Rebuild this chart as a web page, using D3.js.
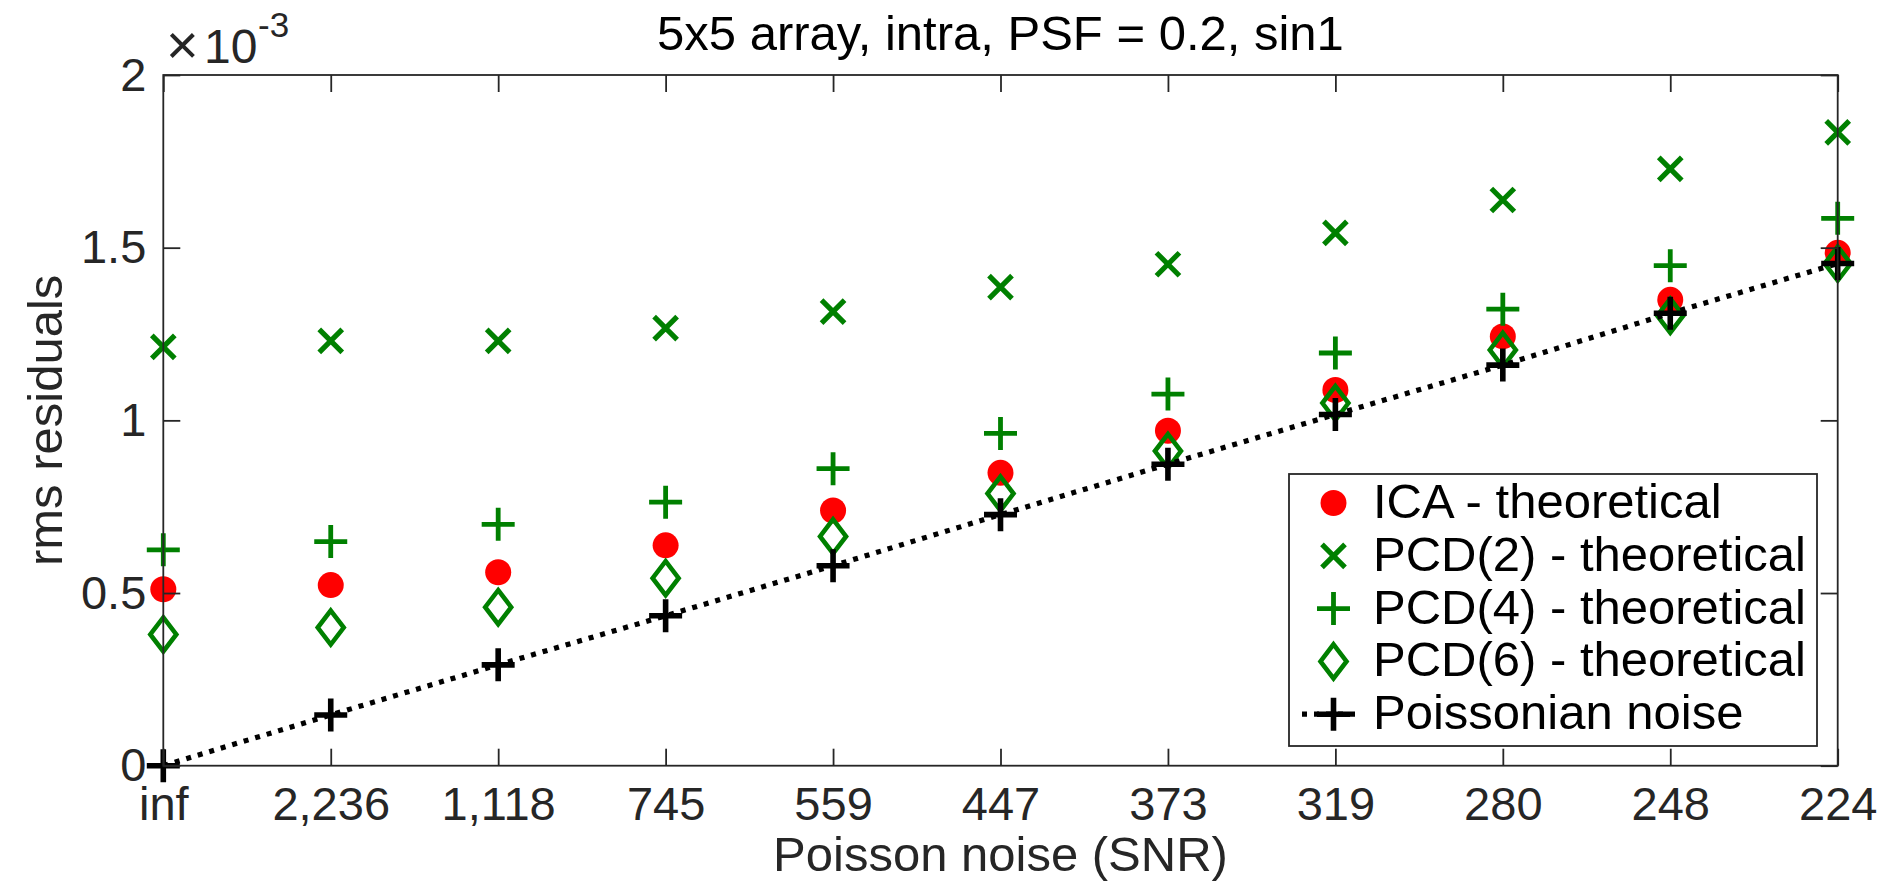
<!DOCTYPE html>
<html>
<head>
<meta charset="utf-8">
<script src="https://cdn.jsdelivr.net/npm/d3@7"></script>
<style>
  html, body { margin: 0; padding: 0; background: #fff; }
  svg { display: block; font-family: "Liberation Sans", Arial, Helvetica, sans-serif; }
</style>
</head>
<body>
<svg id="chart" width="1893" height="883"></svg>
<script>
// SNR levels along the x axis
const categories = ["inf", "2,236", "1,118", "745", "559", "447", "373", "319", "280", "248", "224"];

// rms residuals per SNR level
const icaTheoretical  = [0.511e-3, 0.523e-3, 0.560e-3, 0.638e-3, 0.739e-3, 0.848e-3, 0.970e-3, 1.088e-3, 1.243e-3, 1.349e-3, 1.485e-3];
const pcd2Theoretical = [1.213e-3, 1.230e-3, 1.230e-3, 1.267e-3, 1.315e-3, 1.386e-3, 1.452e-3, 1.543e-3, 1.638e-3, 1.728e-3, 1.834e-3];
const pcd4Theoretical = [0.625e-3, 0.649e-3, 0.699e-3, 0.763e-3, 0.860e-3, 0.962e-3, 1.076e-3, 1.195e-3, 1.322e-3, 1.448e-3, 1.585e-3];
const pcd6Theoretical = [0.380e-3, 0.400e-3, 0.459e-3, 0.543e-3, 0.664e-3, 0.788e-3, 0.911e-3, 1.050e-3, 1.204e-3, 1.303e-3, 1.454e-3];
const poissonianNoise = [0, 0.147e-3, 0.292e-3, 0.434e-3, 0.579e-3, 0.727e-3, 0.873e-3, 1.017e-3, 1.160e-3, 1.310e-3, 1.454e-3];

// y axis ticks (shown scaled by 10^-3)
const yTickValues = [0, 0.5e-3, 1e-3, 1.5e-3, 2e-3];
const yTickLabels = ["0", "0.5", "1", "1.5", "2"];

const legendLabels = ["ICA - theoretical", "PCD(2) - theoretical", "PCD(4) - theoretical", "PCD(6) - theoretical", "Poissonian noise"];

const AXIS = "#262626";
const RED = "#ff0000";
const GREEN = "#008000";

const svg = d3.select("#chart");
const plot = { left: 163.3, right: 1837.7, top: 75, bottom: 765.7 };

const x = d3.scalePoint().domain(categories).range([plot.left, plot.right]).padding(0);
const y = d3.scaleLinear().domain([0, 2e-3]).range([plot.bottom, plot.top]);

// marker shape paths, centred on the origin
const markerPath = {
  circle: () => d3.symbol(d3.symbolCircle, Math.PI * 13 * 13)(),
  cross: () => { const h = 11.5; return `M${-h},${-h}L${h},${h}M${-h},${h}L${h},${-h}`; },
  plus: () => { const h = 16.5; return `M${-h},0L${h},0M0,${-h}L0,${h}`; },
  diamond: () => { const w = 13, hh = 17; return `M0,${-hh}L${w},0L0,${hh}L${-w},0Z`; }
};

const seriesDefs = [
  { values: icaTheoretical,  shape: "circle",  fill: RED,  stroke: "none", sw: 0 },
  { values: pcd2Theoretical, shape: "cross",   fill: "none", stroke: GREEN, sw: 5.2 },
  { values: pcd4Theoretical, shape: "plus",    fill: "none", stroke: GREEN, sw: 4.8 },
  { values: pcd6Theoretical, shape: "diamond", fill: "none", stroke: GREEN, sw: 4.6 },
  { values: poissonianNoise, shape: "plus",    fill: "none", stroke: "#000", sw: 5.6, line: true }
];

function drawMarker(g, def, cx, cy) {
  g.append("path")
    .attr("d", markerPath[def.shape]())
    .attr("transform", `translate(${cx},${cy})`)
    .attr("fill", def.fill)
    .attr("stroke", def.stroke)
    .attr("stroke-width", def.sw)
    .attr("stroke-linejoin", "miter");
}

// data
const dataG = svg.append("g");
seriesDefs.forEach(def => {
  const g = dataG.append("g");
  if (def.line) {
    g.append("path")
      .attr("d", d3.line().x((d, i) => x(categories[i])).y(d => y(d))(def.values))
      .attr("fill", "none")
      .attr("stroke", "#000")
      .attr("stroke-width", 5.2)
      .attr("stroke-dasharray", "5,7");
  }
  def.values.forEach((v, i) => drawMarker(g, def, x(categories[i]), y(v)));
});

// axes box and inward ticks
const axisG = svg.append("g");
const styleAxis = sel => {
  sel.select(".domain").remove();
  sel.selectAll(".tick line").attr("stroke", AXIS).attr("stroke-width", 1.8);
  sel.selectAll(".tick text").attr("fill", AXIS);
};

axisG.append("g")
  .attr("transform", `translate(0,${plot.bottom})`)
  .call(d3.axisBottom(x).tickSize(-17).tickPadding(21))
  .attr("font-size", 47).attr("font-family", null)
  .call(styleAxis);

axisG.append("g")
  .attr("transform", `translate(0,${plot.top})`)
  .call(d3.axisTop(x).tickSize(-17).tickFormat(""))
  .call(styleAxis);

axisG.append("g")
  .attr("transform", `translate(${plot.left},0)`)
  .call(d3.axisLeft(y).tickValues(yTickValues).tickFormat((d, i) => yTickLabels[i]).tickSize(-17).tickPadding(17))
  .attr("font-size", 47).attr("font-family", null)
  .call(styleAxis);

axisG.append("g")
  .attr("transform", `translate(${plot.right},0)`)
  .call(d3.axisRight(y).tickValues(yTickValues).tickFormat("").tickSize(-17))
  .call(styleAxis);

axisG.append("rect")
  .attr("x", plot.left).attr("y", plot.top)
  .attr("width", plot.right - plot.left).attr("height", plot.bottom - plot.top)
  .attr("fill", "none").attr("stroke", AXIS).attr("stroke-width", 1.8);

// exponent label
svg.append("text").attr("x", 166).attr("y", 64).attr("fill", AXIS).attr("font-size", 56).attr("font-weight", 300).text("\u00d7");
svg.append("text").attr("x", 204).attr("y", 63).attr("fill", AXIS).attr("font-size", 48).text("10");
svg.append("text").attr("x", 258).attr("y", 37).attr("fill", AXIS).attr("font-size", 35).text("-3");

// title and axis labels
svg.append("text")
  .attr("x", (plot.left + plot.right) / 2).attr("y", 50)
  .attr("text-anchor", "middle").attr("font-size", 49).attr("fill", "#000")
  .text("5x5 array, intra, PSF = 0.2, sin1");

svg.append("text")
  .attr("x", (plot.left + plot.right) / 2).attr("y", 871)
  .attr("text-anchor", "middle").attr("font-size", 49).attr("fill", AXIS)
  .text("Poisson noise (SNR)");

svg.append("text")
  .attr("transform", `translate(62,${(plot.top + plot.bottom) / 2}) rotate(-90)`)
  .attr("text-anchor", "middle").attr("font-size", 49).attr("fill", AXIS)
  .text("rms residuals");

// legend
const legend = svg.append("g");
const lg = { x0: 1289, y0: 474, x1: 1817, y1: 746 };
legend.append("rect")
  .attr("x", lg.x0).attr("y", lg.y0)
  .attr("width", lg.x1 - lg.x0).attr("height", lg.y1 - lg.y0)
  .attr("fill", "#fff").attr("stroke", AXIS).attr("stroke-width", 1.8);

const rowY = i => 503 + i * 52.8;
seriesDefs.forEach((def, i) => {
  const cy = rowY(i);
  const g = legend.append("g");
  if (def.line) {
    g.append("line")
      .attr("x1", 1302).attr("x2", 1358).attr("y1", cy).attr("y2", cy)
      .attr("stroke", "#000").attr("stroke-width", 5.2).attr("stroke-dasharray", "5,7");
  }
  drawMarker(g, def, 1333.5, cy);
  g.append("text")
    .attr("x", 1373).attr("y", cy + 15)
    .attr("font-size", 49).attr("fill", "#000")
    .text(legendLabels[i]);
});
</script>
</body>
</html>
